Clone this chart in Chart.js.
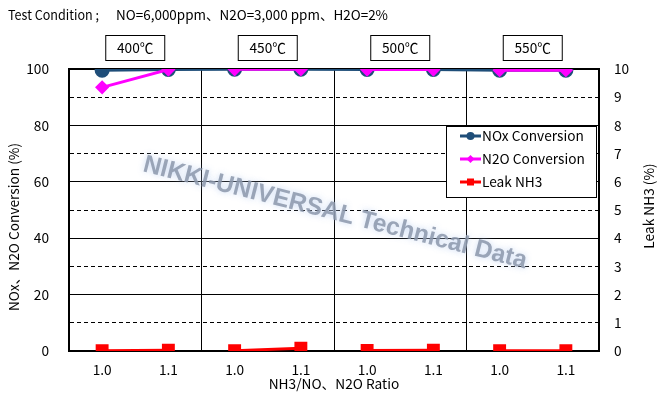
<!DOCTYPE html>
<html>
<head>
<meta charset="utf-8">
<script src="https://cdn.jsdelivr.net/npm/chart.js@4"></script>
<style>
  html, body { margin: 0; padding: 0; background: #fff; }
  #wrap { width: 658px; height: 397px; position: relative; }
</style>
</head>
<body>
<div id="wrap"><canvas id="scrChart"></canvas></div>
<script>
const ratios = ['1.0', '1.1', '1.0', '1.1', '1.0', '1.1', '1.0', '1.1'];
const temps = ['400℃', '450℃', '500℃', '550℃'];
const noxConv = [99.6, 99.8, 99.9, 99.9, 99.8, 99.8, 99.6, 99.6];
const n2oConv = [93.5, 99.8, 99.9, 99.9, 99.8, 99.8, 99.6, 99.6];
const leakNH3 = [0.01, 0.03, 0.01, 0.1, 0.02, 0.03, 0.01, 0.01];

const FONT = '"Noto Sans CJK JP", "Noto Sans", sans-serif';
const FS = 13.7;
const NAVY = '#1f4e79';
const MAGENTA = '#ff00ff';
const RED = '#ff0000';

// lines only join the two ratios of one temperature
const inGroup = (color) => (c) => (c.p0DataIndex % 2 ? 'rgba(0,0,0,0)' : color);

const extras = {
  id: 'extras',
  beforeDatasetsDraw(chart) {
    const ctx = chart.ctx;
    const mark = 'NIKKI-UNIVERSAL Technical Data';
    ctx.save();
    ctx.translate(335, 213);
    ctx.rotate(14.3 * Math.PI / 180);
    ctx.font = 'bold 25px "Liberation Sans", sans-serif';
    ctx.scale(395 / ctx.measureText(mark).width, 1);
    ctx.textAlign = 'center';
    ctx.textBaseline = 'middle';
    ctx.shadowColor = 'rgba(185,205,240,0.95)';
    ctx.shadowBlur = 6;
    ctx.fillStyle = 'rgba(140,152,172,0.85)';
    ctx.fillText(mark, 0, 0);
    ctx.restore();
  },
  afterDraw(chart) {
    const ctx = chart.ctx;
    const x = chart.scales.x;
    ctx.save();
    ctx.fillStyle = '#000';
    ctx.font = FS + 'px ' + FONT;
    ctx.textBaseline = 'middle';
    ctx.textAlign = 'left';
    ctx.fillText('Test Condition ;', 8, 15, 91);
    ctx.fillText('NO=6,000ppm、N2O=3,000 ppm、H2O=2%', 116, 15, 272);

    // temperature boxes
    ctx.textAlign = 'center';
    temps.forEach((t, g) => {
      const cx = (x.getPixelForValue(2 * g) + x.getPixelForValue(2 * g + 1)) / 2;
      ctx.fillStyle = '#fff';
      ctx.fillRect(cx - 29.5, 35.5, 59, 25);
      ctx.strokeStyle = '#000';
      ctx.lineWidth = 1;
      ctx.strokeRect(cx - 29.5, 35.5, 59, 25);
      ctx.fillStyle = '#000';
      ctx.fillText(t, cx, 48);
    });

    // axis titles
    ctx.save();
    ctx.translate(14, 227);
    ctx.rotate(-Math.PI / 2);
    ctx.fillText('NOx、N2O Conversion (%)', 0, 0);
    ctx.restore();
    ctx.save();
    ctx.translate(649, 206);
    ctx.rotate(-Math.PI / 2);
    ctx.fillText('Leak NH3 (%)', 0, 0);
    ctx.restore();

    // legend
    ctx.fillStyle = '#fff';
    ctx.fillRect(446.5, 126.5, 150, 71);
    ctx.strokeStyle = '#000';
    ctx.strokeRect(446.5, 126.5, 150, 71);
    ctx.textAlign = 'left';
    chart.data.datasets.forEach((ds, i) => {
      const y = 136 + i * 23;
      ctx.strokeStyle = ds.backgroundColor;
      ctx.lineWidth = 3;
      ctx.beginPath();
      ctx.moveTo(460, y);
      ctx.lineTo(481, y);
      ctx.stroke();
      ctx.fillStyle = ds.backgroundColor;
      ctx.beginPath();
      if (ds.pointStyle === 'circle') ctx.arc(470.5, y, 4, 0, Math.PI * 2);
      else if (ds.pointStyle === 'rectRot') {
        ctx.moveTo(470.5, y - 4); ctx.lineTo(474.5, y); ctx.lineTo(470.5, y + 4); ctx.lineTo(466.5, y);
      } else ctx.rect(467, y - 3.5, 7, 7);
      ctx.fill();
      ctx.fillStyle = '#000';
      ctx.fillText(ds.label, 482, y);
    });
    ctx.restore();
  }
};

new Chart(document.getElementById('scrChart'), {
  type: 'line',
  data: {
    labels: ratios,
    datasets: [
      {
        label: 'NOx Conversion',
        data: noxConv,
        yAxisID: 'y',
        borderColor: NAVY,
        backgroundColor: NAVY,
        borderWidth: 3,
        pointStyle: 'circle',
        pointRadius: 6,
        order: 2,
      },
      {
        label: 'N2O Conversion',
        data: n2oConv,
        yAxisID: 'y',
        borderColor: MAGENTA,
        backgroundColor: MAGENTA,
        borderWidth: 3,
        pointStyle: 'rectRot',
        pointRadius: 5,
        segment: { borderColor: inGroup(MAGENTA) },
        order: 1,
      },
      {
        label: 'Leak NH3',
        data: leakNH3,
        yAxisID: 'y2',
        borderColor: RED,
        backgroundColor: RED,
        borderWidth: 3,
        pointStyle: 'rect',
        pointRadius: 7,
        segment: { borderColor: inGroup(RED) },
        order: 0,
      },
    ],
  },
  options: {
    responsive: true,
    maintainAspectRatio: false,
    animation: false,
    layout: { padding: { top: 69, left: 0, right: 0, bottom: 0 } },
    plugins: { legend: { display: false }, tooltip: { enabled: false } },
    scales: {
      x: {
        offset: true,
        grid: {
          offset: true,
          drawTicks: false,
          color: (c) => ([2, 4, 6].includes(c.index) ? '#000' : 'rgba(0,0,0,0)'),
        },
        border: { color: '#000', width: 2 },
        ticks: { color: '#000', font: { family: FONT, size: FS }, padding: 11, maxRotation: 0, autoSkip: false },
        title: {
          display: true,
          text: 'NH3/NO、N2O Ratio',
          color: '#000',
          font: { family: FONT, size: FS },
          padding: { top: 0, bottom: 5 },
        },
        afterFit: (s) => { s.height = 46; },
      },
      y: {
        position: 'left',
        min: 0,
        max: 100,
        ticks: {
          stepSize: 10,
          color: '#000',
          font: { family: FONT, size: FS },
          padding: 20,
          callback: (v) => (v % 20 === 0 ? v : ''),
        },
        grid: {
          drawTicks: false,
          color: (c) => (c.tick && c.tick.value === 0 ? 'rgba(0,0,0,0)' : '#000'),
          lineWidth: (c) => (c.tick && c.tick.value === 100 ? 2 : 1),
        },
        border: {
          color: '#000',
          width: 2,
          dash: (c) => (c.tick && c.tick.value % 20 ? [4, 3] : []),
        },
        afterFit: (s) => { s.width = 69; },
      },
      y2: {
        position: 'right',
        min: 0,
        max: 10,
        ticks: { stepSize: 1, color: '#000', font: { family: FONT, size: FS }, padding: 15 },
        grid: { display: false, drawTicks: false },
        border: { color: '#000', width: 2 },
        afterFit: (s) => { s.width = 59; },
      },
    },
  },
  plugins: [extras],
});
</script>
</body>
</html>
